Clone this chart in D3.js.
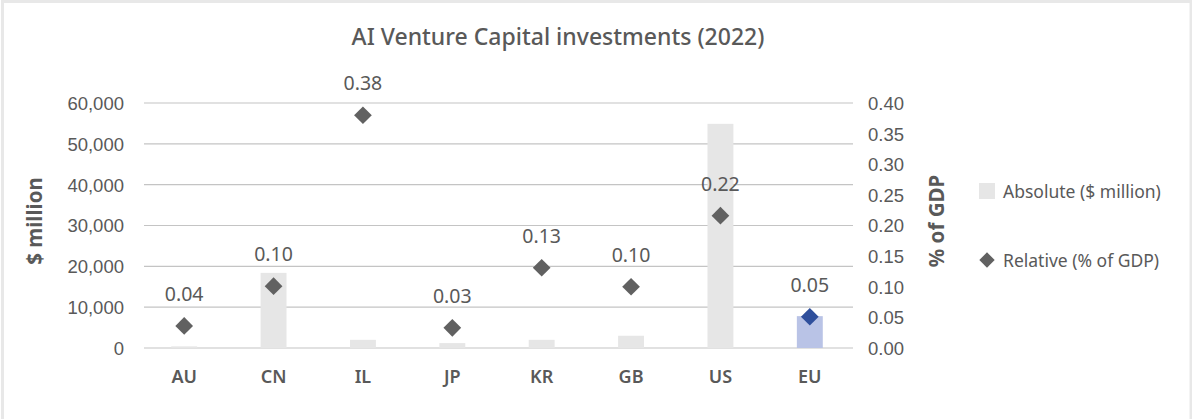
<!DOCTYPE html>
<html><head><meta charset="utf-8">
<script src="https://cdn.jsdelivr.net/npm/d3@7"></script>
<style>body{margin:0;background:#fff}svg{display:block;font-family:"Noto Sans","Open Sans",sans-serif}</style>
</head><body>
<script>
const categories = ["AU","CN","IL","JP","KR","GB","US","EU"];
const absoluteValues = [400, 18400, 2000, 1200, 2000, 3000, 54900, 7800];
const relativeValues = [0.036, 0.101, 0.380, 0.033, 0.131, 0.100, 0.216, 0.051];
const leftTicks = [0,10000,20000,30000,40000,50000,60000];
const rightTicks = [0,0.05,0.10,0.15,0.20,0.25,0.30,0.35,0.40];
const title = "AI Venture Capital investments (2022)";
const leftTitle = "$ million", rightTitle = "% of GDP";
const legendLabels = ["Absolute ($ million)", "Relative (% of GDP)"];

const W = 1192, H = 419;
const txt = "#595959";
const svg = d3.select("body").append("svg").attr("width", W).attr("height", H);
svg.append("rect").attr("x",2.5).attr("y",1.5).attr("width",1188.5).attr("height",440)
  .attr("fill","#fff").attr("stroke","#e8e8e8").attr("stroke-width",3);

const x = d3.scaleBand().domain(categories).range([139.5, 854.5]).paddingInner(0.71).paddingOuter(0.355);
const yL = d3.scaleLinear().domain([0,60000]).range([348,103]);
const yR = d3.scaleLinear().domain([0,0.40]).range([348,103]);

// gridlines
svg.append("g").selectAll("line").data(leftTicks).join("line")
  .attr("x1",144).attr("x2",853).attr("y1",d=>yL(d)).attr("y2",d=>yL(d))
  .attr("stroke","#c4c4c4").attr("stroke-width",1.2);

// left axis
const axL = svg.append("g").attr("transform","translate(124,0)")
  .call(d3.axisLeft(yL).tickValues(leftTicks).tickFormat(d3.format(",")).tickSize(0).tickPadding(0));
axL.select(".domain").remove();
axL.selectAll("text").attr("fill",txt).style("font-size","18.5px").attr("dy","0.35em");

// right axis
const axR = svg.append("g").attr("transform","translate(868,0)")
  .call(d3.axisRight(yR).tickValues(rightTicks).tickFormat(d3.format(".2f")).tickSize(0).tickPadding(0));
axR.select(".domain").remove();
axR.selectAll("text").attr("fill",txt).style("font-size","18.5px").attr("dy","0.35em");

// bars
svg.append("g").selectAll("rect").data(categories).join("rect")
  .attr("x",d=>x(d)).attr("width",x.bandwidth())
  .attr("y",(d,i)=>yL(absoluteValues[i])).attr("height",(d,i)=>yL(0)-yL(absoluteValues[i]))
  .attr("fill",d=>d==="EU"?"#b9c3e6":"#e6e6e6");

// diamonds
const dsym = d3.symbol().type(d3.symbolDiamond2).size(200);
svg.append("g").selectAll("path").data(categories).join("path")
  .attr("d",dsym)
  .attr("transform",(d,i)=>`translate(${x(d)+x.bandwidth()/2},${yR(relativeValues[i])})`)
  .attr("fill",d=>d==="EU"?"#2f4f9c":"#616161");

// data labels
svg.append("g").selectAll("text").data(categories).join("text")
  .attr("x",d=>x(d)+x.bandwidth()/2).attr("y",(d,i)=>yR(relativeValues[i])-25)
  .attr("text-anchor","middle").attr("fill",txt).style("font-size","19.5px")
  .text((d,i)=>relativeValues[i].toFixed(2));

// category labels
svg.append("g").selectAll("text").data(categories).join("text")
  .attr("x",d=>x(d)+x.bandwidth()/2).attr("y",383)
  .attr("text-anchor","middle").attr("fill",txt).style("font-size","18px").style("font-weight","600")
  .text(d=>d);

// title
svg.append("text").attr("x",558).attr("y",45).attr("text-anchor","middle")
  .attr("fill",txt).style("font-size","23px").style("font-weight","500").text(title);

// axis titles
svg.append("text").attr("transform","translate(42,221) rotate(-90)").attr("text-anchor","middle")
  .attr("fill",txt).style("font-size","20.5px").style("font-weight","bold").text(leftTitle);
svg.append("text").attr("transform","translate(944,221) rotate(-90)").attr("text-anchor","middle")
  .attr("fill",txt).style("font-size","20.5px").style("font-weight","bold").text(rightTitle);

// legend
svg.append("rect").attr("x",979).attr("y",183).attr("width",16).attr("height",16).attr("fill","#e6e6e6");
svg.append("text").attr("x",1003).attr("y",198).attr("fill",txt).style("font-size","17.5px").text(legendLabels[0]);
svg.append("path").attr("d",d3.symbol().type(d3.symbolDiamond2).size(150)).attr("transform","translate(987,260)").attr("fill","#616161");
svg.append("text").attr("x",1003).attr("y",267).attr("fill",txt).style("font-size","17.5px").text(legendLabels[1]);
</script>
</body></html>
